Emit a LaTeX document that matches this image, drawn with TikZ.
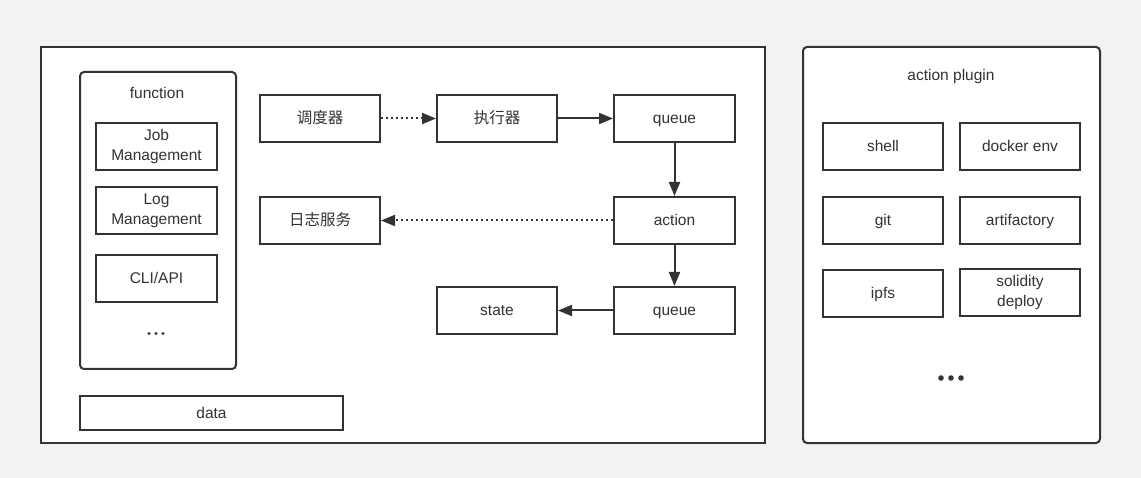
\documentclass[tikz,border=0pt]{standalone}
\usepackage{fontspec}
\setmainfont{Liberation Sans}
\newfontfamily\cjk{Noto Sans CJK SC}
\usetikzlibrary{arrows.meta}
\definecolor{ink}{HTML}{333333}
\definecolor{page}{HTML}{F2F2F2}
\begin{document}
\begin{tikzpicture}[x=1pt,y=-1pt,
  box/.style={draw=ink,line width=2pt,fill=white,inner sep=0pt,font=\fontsize{15.5}{20}\selectfont,text=ink,align=center,
    minimum width=120pt,minimum height=47pt},
  one/.style={text height=12pt,text depth=2pt},
  zh/.style={one,font=\cjk\fontsize{15.5}{20}\selectfont},
  frame/.style={draw=ink,line width=2pt,fill=white},
  conn/.style={draw=ink,line width=2pt,-{Triangle[length=14pt,width=11pt]}},
  dotconn/.style={conn,dash pattern=on 2pt off 3pt},
  lbl/.style={font=\fontsize{15.5}{20}\selectfont,text=ink,text height=12pt,text depth=2pt},
  dot/.style={fill=ink,draw=none}]
% page background
\fill[page] (0,0) rectangle (1141,478);
\useasboundingbox (0,0) rectangle (1141,478);

% outer containers
\draw[frame] (41,47) rectangle (765,443);
\draw[frame,rounded corners=4pt] (803,47) rectangle (1100,443);
\draw[frame,rounded corners=4pt] (80,72) rectangle (236,369);

% function group
\node[lbl] (fn) at (157,94) {function};
\node[box,minimum width=121pt] (job) at (156.5,146.5) {Job\\Management};
\node[box,minimum width=121pt] (log) at (156.5,210.5) {Log\\Management};
\node[box,one,minimum width=121pt] (cli) at (156.5,278.5) {CLI/API};
\coordinate (fdots) at (156,333.5);
\foreach \dx in {-7,0,7} \fill[dot] ([xshift=\dx pt]fdots) circle (1.6pt);
\node[box,one,minimum width=263pt,minimum height=34pt] (data) at (211.5,413) {data};

% pipeline
\node[box,zh] (sched) at (320,118.5) {调度器};
\node[box,zh] (exec) at (497,118.5) {执行器};
\node[box,one,minimum width=121pt] (q1) at (674.5,118.5) {queue};
\node[box,zh] (logsvc) at (320,220.5) {日志服务};
\node[box,one,minimum width=121pt] (act) at (674.5,220.5) {action};
\node[box,one] (state) at (497,310.5) {state};
\node[box,one,minimum width=121pt] (q2) at (674.5,310.5) {queue};

\draw[dotconn] (sched) -- (exec);
\draw[conn] (exec.east) -- (q1.west);
\draw[conn] (q1) -- (act);
\draw[dotconn] (act) -- (logsvc);
\draw[conn] (act) -- (q2);
\draw[conn] (q2) -- (state);

% action plugin group
\node[lbl] (ap) at (951,76) {action plugin};
\node[box,one] (shell) at (883,146.5) {shell};
\node[box,one] (docker) at (1020,146.5) {docker env};
\node[box,one] (git) at (883,220.5) {git};
\node[box,one] (arti) at (1020,220.5) {artifactory};
\node[box,one] (ipfs) at (883,293.5) {ipfs};
\node[box] (sol) at (1020,292.5) {solidity\\deploy};
\coordinate (pdots) at (951,378);
\foreach \dx in {-10,0,10} \fill[dot] ([xshift=\dx pt]pdots) circle (2.8pt);
\end{tikzpicture}
\end{document}
